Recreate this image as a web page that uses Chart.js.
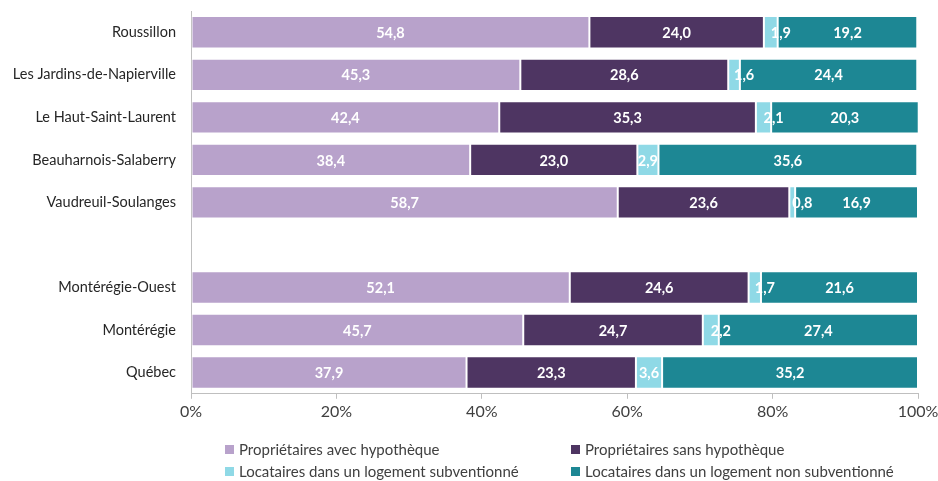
<!DOCTYPE html>
<html lang="fr">
<head>
<meta charset="utf-8">
<script src="https://cdn.jsdelivr.net/npm/chart.js@4.4.0/dist/chart.umd.min.js"></script>
<style>
  html, body { margin: 0; padding: 0; background: #fff; }
  #wrap { position: relative; width: 938px; height: 481px; }
  #legend {
    position: absolute; left: 225px; top: 440px;
    display: grid; grid-template-columns: 346px 360px; row-gap: 4px;
    font-family: Lato, "Open Sans", sans-serif; font-size: 15px; color: #404040;
  }
  #legend div { display: flex; align-items: center; height: 18px; white-space: nowrap; }
  #legend span.box { width: 9px; height: 9px; margin-right: 5px; display: inline-block; }
</style>
</head>
<body>
<div id="wrap">
  <canvas id="chart" width="938" height="481"></canvas>
  <div id="legend"></div>
</div>
<script>
const regions = [
  'Roussillon', 'Les Jardins-de-Napierville', 'Le Haut-Saint-Laurent',
  'Beauharnois-Salaberry', 'Vaudreuil-Soulanges', '',
  'Montérégie-Ouest', 'Montérégie', 'Québec'
]
const seriesNames = [
  'Propriétaires avec hypothèque',
  'Propriétaires sans hypothèque',
  'Locataires dans un logement subventionné',
  'Locataires dans un logement non subventionné'
]
const avecHypotheque = [54.8, 45.3, 42.4, 38.4, 58.7, null, 52.1, 45.7, 37.9]
const sansHypotheque = [24.0, 28.6, 35.3, 23.0, 23.6, null, 24.6, 24.7, 23.3]
const subventionne = [1.9, 1.6, 2.1, 2.9, 0.8, null, 1.7, 2.2, 3.6]
const nonSubventionne = [19.2, 24.4, 20.3, 35.6, 16.9, null, 21.6, 27.4, 35.2]
const xTicks = [0, 20, 40, 60, 80, 100]

const colors = ['#b8a2cb', '#4e3562', '#8fd9e6', '#1d8794']
const values = [avecHypotheque, sansHypotheque, subventionne, nonSubventionne]
const FONT = 'Lato, "Open Sans", sans-serif'

// white value labels in each segment; labels wider than a thin
// segment start at its middle instead of being centred on it
const segmentLabels = {
  id: 'segmentLabels',
  afterDatasetsDraw(chart) {
    const ctx = chart.ctx
    ctx.save()
    ctx.font = `bold 14.5px ${FONT}`
    ctx.fillStyle = '#ffffff'
    ctx.textBaseline = 'middle'
    chart.data.datasets.forEach((ds, i) => {
      chart.getDatasetMeta(i).data.forEach((bar, j) => {
        const v = ds.data[j]
        if (v == null) return
        const text = v.toFixed(1).replace('.', ',')
        const cx = (bar.x + bar.base) / 2
        const segW = Math.abs(bar.x - bar.base)
        ctx.textAlign = ctx.measureText(text).width > segW ? 'left' : 'center'
        ctx.fillText(text, cx, bar.y + 1)
      })
    })
    ctx.restore()
  },
}

new Chart(document.getElementById('chart'), {
  type: 'bar',
  data: {
    labels: regions,
    datasets: values.map((data, i) => ({
      label: seriesNames[i],
      data: data,
      backgroundColor: colors[i],
      borderColor: 'rgba(255,255,255,0.35)',
      borderWidth: 1,
      borderSkipped: false,
      barPercentage: 0.76,
      categoryPercentage: 1,
    })),
  },
  options: {
    indexAxis: 'y',
    responsive: false,
    animation: false,
    layout: { padding: { top: 11, right: 20, bottom: 57, left: 0 } },
    plugins: {
      legend: { display: false },
      tooltip: { enabled: false },
    },
    scales: {
      x: {
        stacked: true,
        min: 0,
        max: 100,
        afterBuildTicks: (axis) => { axis.ticks = xTicks.map(v => ({ value: v })) },
        afterFit: (axis) => { axis.paddingLeft = 0; axis.paddingRight = 0 },
        ticks: {
          callback: (v) => v + '%',
          font: { family: FONT, size: 16 },
          color: '#404040',
          padding: 3,
          maxRotation: 0,
        },
        grid: { drawOnChartArea: false, drawTicks: true, tickLength: 5, color: '#bfbfbf' },
        border: { color: '#bfbfbf', width: 1 },
      },
      y: {
        stacked: true,
        afterFit: (axis) => {
          axis.width = 191
          axis.paddingTop = 0
          axis.paddingBottom = 0
        },
        ticks: {
          font: { family: FONT, size: 14.5 },
          color: '#262626',
          padding: 15,
        },
        grid: { drawOnChartArea: false, drawTicks: false },
        border: { color: '#bfbfbf', width: 1 },
      },
    },
  },
  plugins: [segmentLabels],
})

// two-column legend under the axis
const legend = document.getElementById('legend')
for (let i = 0; i < seriesNames.length; i++) {
  const item = document.createElement('div')
  item.innerHTML = `<span class="box" style="background:${colors[i]}"></span>${seriesNames[i]}`
  legend.appendChild(item)
}
</script>
</body>
</html>
